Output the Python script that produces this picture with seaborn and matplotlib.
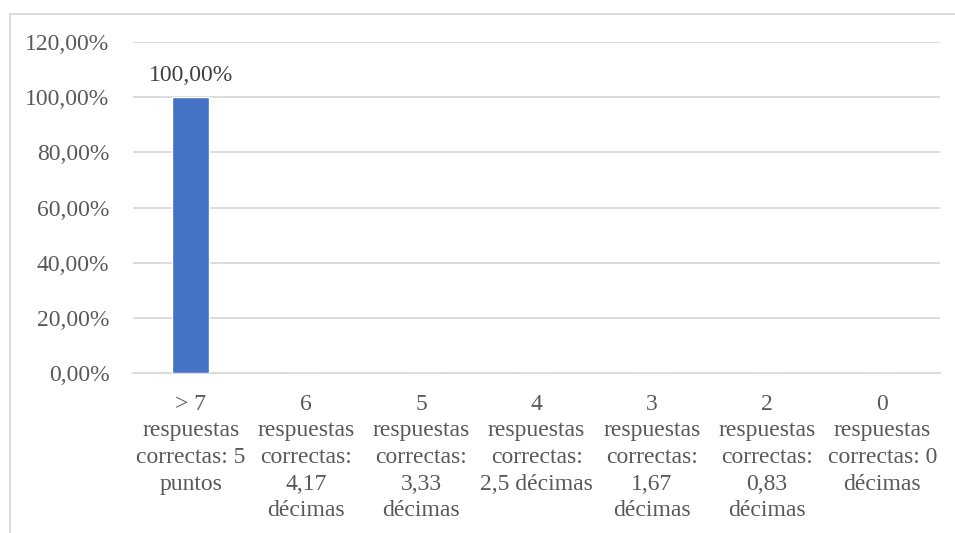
import matplotlib.pyplot as plt
import seaborn as sns
import pandas as pd
from matplotlib.patches import Rectangle
from matplotlib.ticker import FuncFormatter

# categories and values (percent)
categories = [
    "> 7\nrespuestas\ncorrectas: 5\npuntos",
    "6\nrespuestas\ncorrectas:\n4,17\ndécimas",
    "5\nrespuestas\ncorrectas:\n3,33\ndécimas",
    "4\nrespuestas\ncorrectas:\n2,5 décimas",
    "3\nrespuestas\ncorrectas:\n1,67\ndécimas",
    "2\nrespuestas\ncorrectas:\n0,83\ndécimas",
    "0\nrespuestas\ncorrectas: 0\ndécimas",
]
percentages = [100.0, 0.0, 0.0, 0.0, 0.0, 0.0, 0.0]
y_ticks = [0, 20, 40, 60, 80, 100, 120]

text_color = "#595959"
grid_color = "#d9d9d9"
bar_color = "#4472c4"

sns.set_style("white")
plt.rcParams["font.family"] = ["Liberation Serif", "DejaVu Serif"]

df = pd.DataFrame({"categoria": categories, "porcentaje": percentages})

fig = plt.figure(figsize=(9.55, 5.33), dpi=100)
ax = fig.add_axes([133 / 955, 1 - 373 / 533, (940 - 133) / 955, (373 - 42) / 533])

sns.barplot(data=df, x="categoria", y="porcentaje", color=bar_color,
            width=0.32, saturation=1, ax=ax, zorder=3)

ax.set_ylim(0, 120)
ax.set_yticks(y_ticks)
ax.yaxis.set_major_formatter(FuncFormatter(lambda v, p: f"{v:.2f}".replace(".", ",") + "%"))
ax.grid(axis="y", color=grid_color, linewidth=1.3, zorder=0)
for s in ["top", "right", "left"]:
    ax.spines[s].set_visible(False)
ax.spines["bottom"].set_color(grid_color)
ax.spines["bottom"].set_linewidth(1.3)
ax.tick_params(axis="both", length=0, labelsize=17, labelcolor=text_color)
ax.tick_params(axis="y", pad=17)
ax.tick_params(axis="x", pad=15)
for lbl in ax.get_xticklabels():
    lbl.set_linespacing(1.35)
    lbl.set_verticalalignment("top")
ax.set_xlabel("")
ax.set_ylabel("")

# data labels for non-zero bars
for i, v in enumerate(percentages):
    if v > 0:
        ax.text(i, v + 4, f"{v:.2f}".replace(".", ",") + "%", ha="center", va="bottom",
                fontsize=17, color="#404040")

# chart frame (cropped on right and bottom)
fig.patches.append(Rectangle((10 / 955, -0.1), 1.0, 1 - 14 / 533 + 0.1,
                             transform=fig.transFigure, fill=False,
                             edgecolor=grid_color, linewidth=1.3))

fig.savefig("out.png", dpi=100, facecolor="white")
